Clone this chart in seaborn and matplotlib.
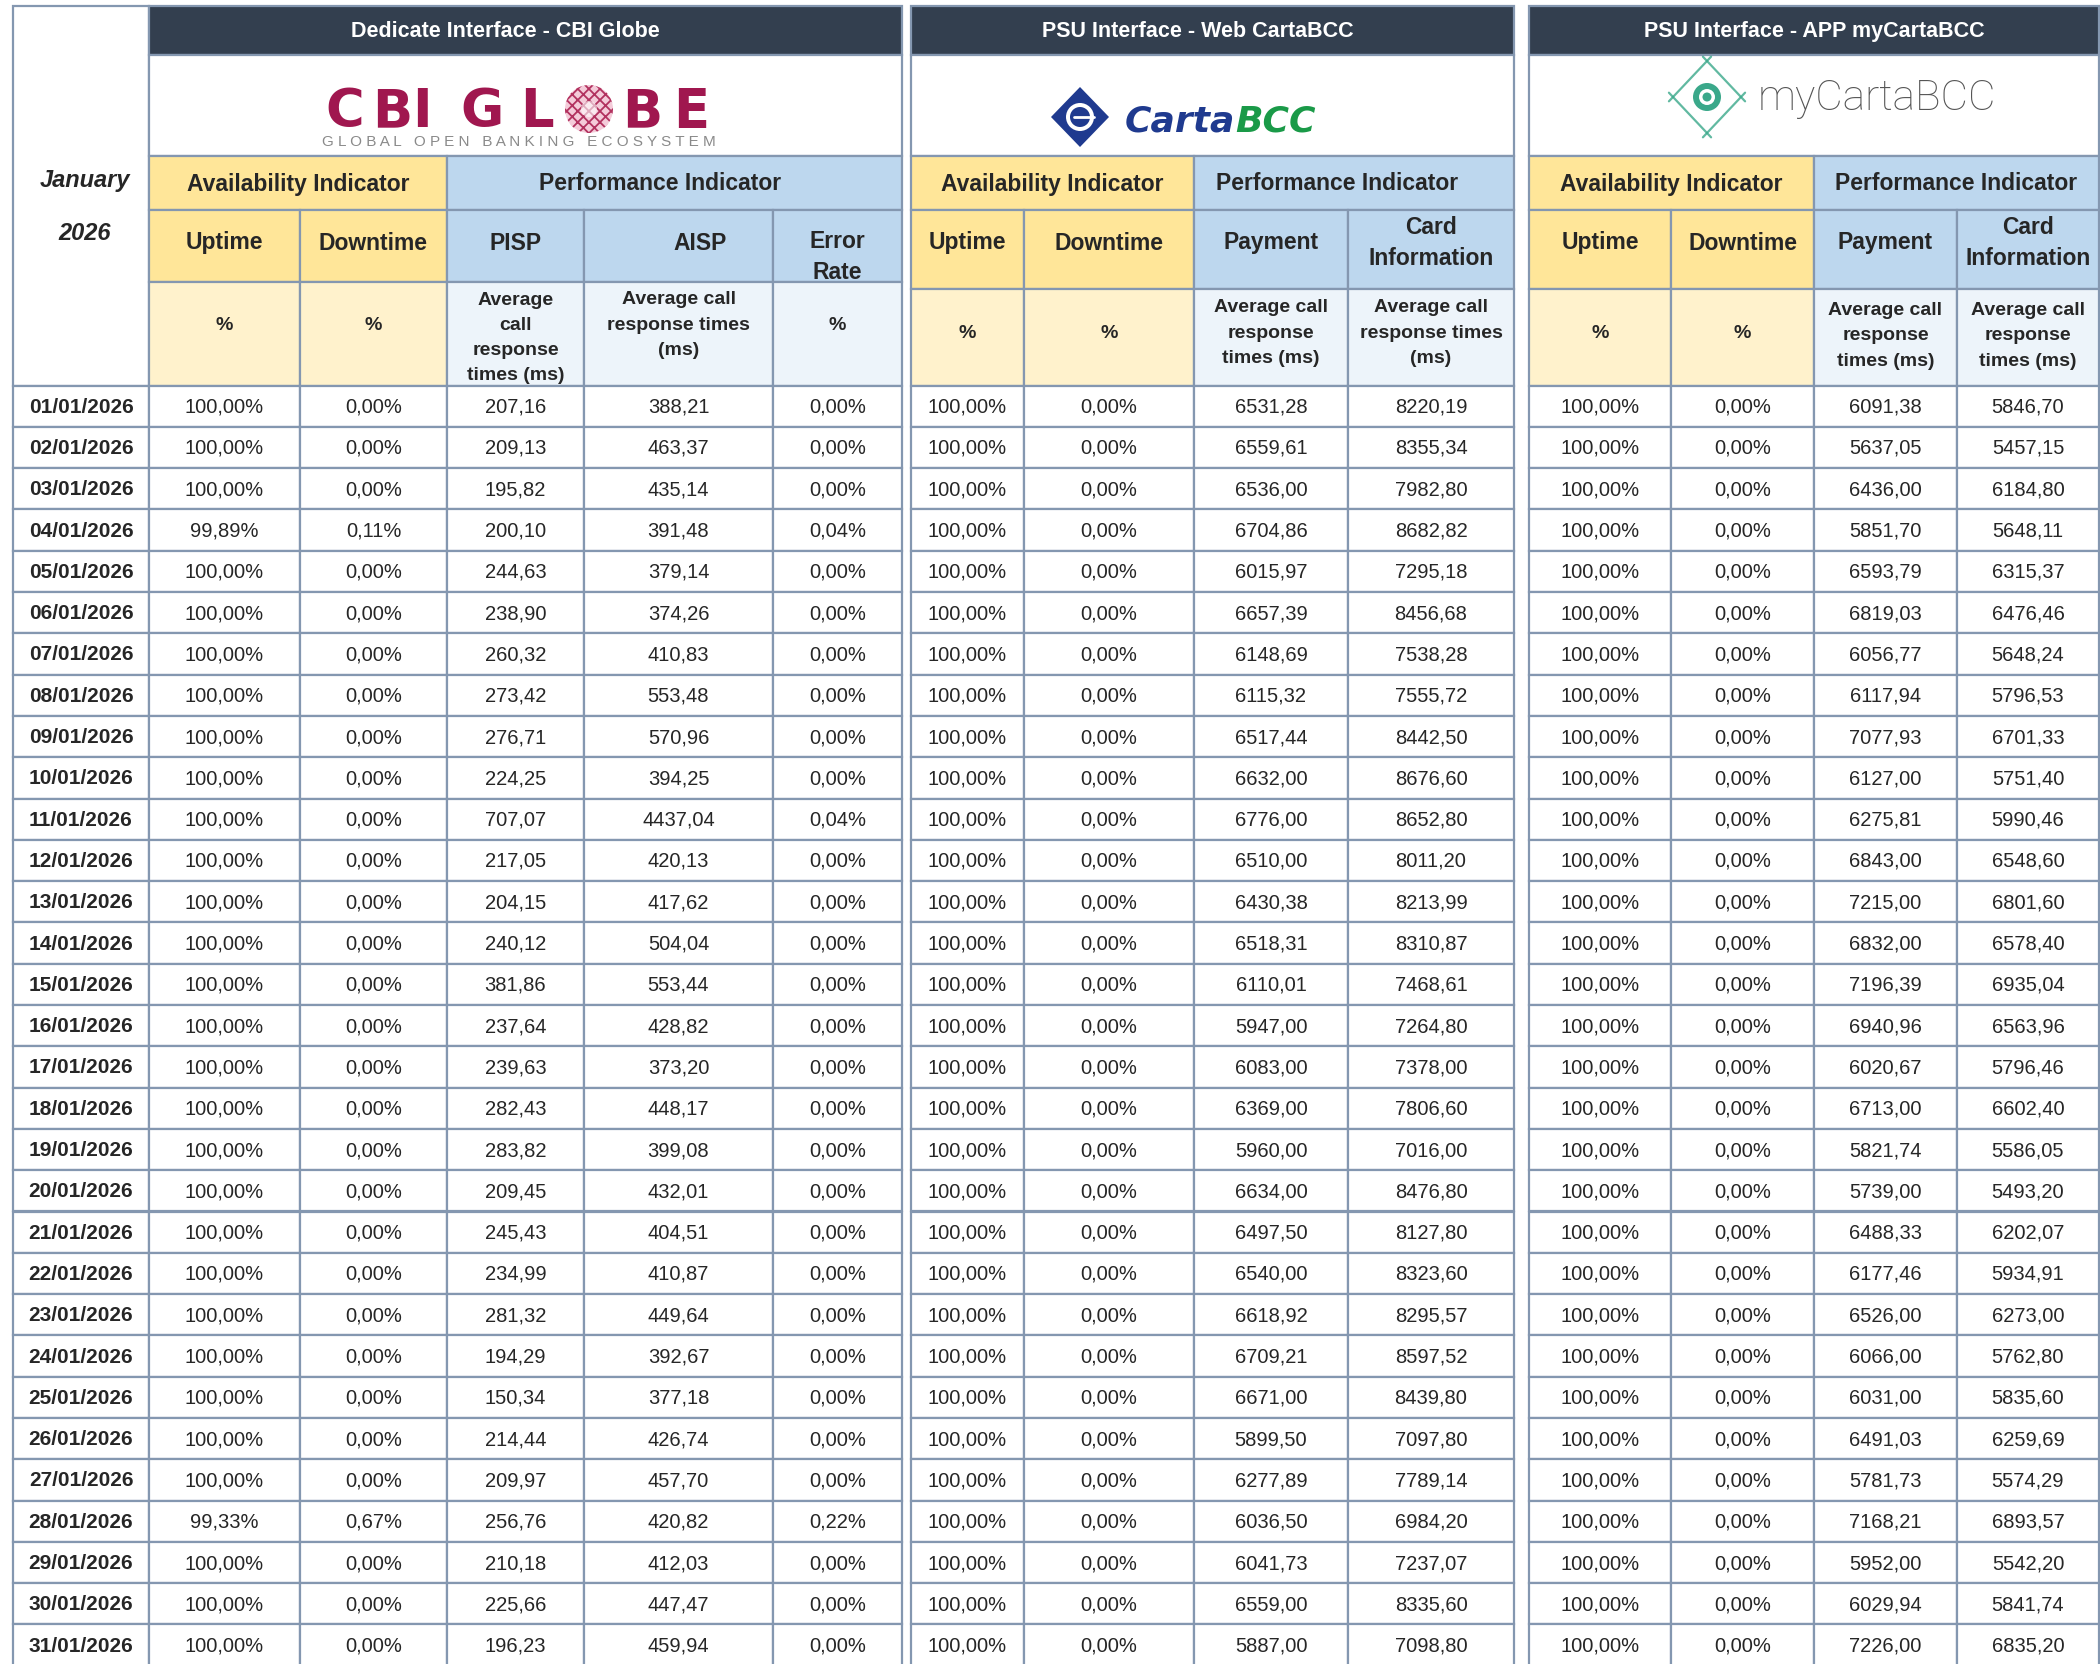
import numpy as np
import matplotlib.pyplot as plt
from matplotlib.patches import Rectangle, Circle, Polygon
import seaborn as sns

sns.set_theme(style='white')
plt.rcParams['font.family'] = ['Liberation Sans', 'DejaVu Sans']
plt.rcParams['hatch.linewidth'] = 1.3

# ---------------- data ----------------
month_label = 'January'
year_label = '2026'

dates = ['01/01/2026', '02/01/2026', '03/01/2026', '04/01/2026', '05/01/2026', '06/01/2026',
         '07/01/2026', '08/01/2026', '09/01/2026', '10/01/2026', '11/01/2026', '12/01/2026',
         '13/01/2026', '14/01/2026', '15/01/2026', '16/01/2026', '17/01/2026', '18/01/2026',
         '19/01/2026', '20/01/2026', '21/01/2026', '22/01/2026', '23/01/2026', '24/01/2026',
         '25/01/2026', '26/01/2026', '27/01/2026', '28/01/2026', '29/01/2026', '30/01/2026',
         '31/01/2026']

# Dedicate Interface - CBI Globe
cbi_uptime = [100.00, 100.00, 100.00, 99.89, 100.00, 100.00, 100.00, 100.00, 100.00, 100.00,
              100.00, 100.00, 100.00, 100.00, 100.00, 100.00, 100.00, 100.00, 100.00, 100.00,
              100.00, 100.00, 100.00, 100.00, 100.00, 100.00, 100.00, 99.33, 100.00, 100.00,
              100.00]
cbi_downtime = [0.00, 0.00, 0.00, 0.11, 0.00, 0.00, 0.00, 0.00, 0.00, 0.00,
                0.00, 0.00, 0.00, 0.00, 0.00, 0.00, 0.00, 0.00, 0.00, 0.00,
                0.00, 0.00, 0.00, 0.00, 0.00, 0.00, 0.00, 0.67, 0.00, 0.00,
                0.00]
cbi_pisp = [207.16, 209.13, 195.82, 200.10, 244.63, 238.90, 260.32, 273.42, 276.71, 224.25,
            707.07, 217.05, 204.15, 240.12, 381.86, 237.64, 239.63, 282.43, 283.82, 209.45,
            245.43, 234.99, 281.32, 194.29, 150.34, 214.44, 209.97, 256.76, 210.18, 225.66,
            196.23]
cbi_aisp = [388.21, 463.37, 435.14, 391.48, 379.14, 374.26, 410.83, 553.48, 570.96, 394.25,
            4437.04, 420.13, 417.62, 504.04, 553.44, 428.82, 373.20, 448.17, 399.08, 432.01,
            404.51, 410.87, 449.64, 392.67, 377.18, 426.74, 457.70, 420.82, 412.03, 447.47,
            459.94]
cbi_error = [0.00, 0.00, 0.00, 0.04, 0.00, 0.00, 0.00, 0.00, 0.00, 0.00,
             0.04, 0.00, 0.00, 0.00, 0.00, 0.00, 0.00, 0.00, 0.00, 0.00,
             0.00, 0.00, 0.00, 0.00, 0.00, 0.00, 0.00, 0.22, 0.00, 0.00,
             0.00]

# PSU Interface - Web CartaBCC
web_uptime = [100.00] * 31
web_downtime = [0.00] * 31
web_payment = [6531.28, 6559.61, 6536.00, 6704.86, 6015.97, 6657.39, 6148.69, 6115.32, 6517.44, 6632.00,
               6776.00, 6510.00, 6430.38, 6518.31, 6110.01, 5947.00, 6083.00, 6369.00, 5960.00, 6634.00,
               6497.50, 6540.00, 6618.92, 6709.21, 6671.00, 5899.50, 6277.89, 6036.50, 6041.73, 6559.00,
               5887.00]
web_card = [8220.19, 8355.34, 7982.80, 8682.82, 7295.18, 8456.68, 7538.28, 7555.72, 8442.50, 8676.60,
            8652.80, 8011.20, 8213.99, 8310.87, 7468.61, 7264.80, 7378.00, 7806.60, 7016.00, 8476.80,
            8127.80, 8323.60, 8295.57, 8597.52, 8439.80, 7097.80, 7789.14, 6984.20, 7237.07, 8335.60,
            7098.80]

# PSU Interface - APP myCartaBCC
app_uptime = [100.00] * 31
app_downtime = [0.00] * 31
app_payment = [6091.38, 5637.05, 6436.00, 5851.70, 6593.79, 6819.03, 6056.77, 6117.94, 7077.93, 6127.00,
               6275.81, 6843.00, 7215.00, 6832.00, 7196.39, 6940.96, 6020.67, 6713.00, 5821.74, 5739.00,
               6488.33, 6177.46, 6526.00, 6066.00, 6031.00, 6491.03, 5781.73, 7168.21, 5952.00, 6029.94,
               7226.00]
app_card = [5846.70, 5457.15, 6184.80, 5648.11, 6315.37, 6476.46, 5648.24, 5796.53, 6701.33, 5751.40,
            5990.46, 6548.60, 6801.60, 6578.40, 6935.04, 6563.96, 5796.46, 6602.40, 5586.05, 5493.20,
            6202.07, 5934.91, 6273.00, 5762.80, 5835.60, 6259.69, 5574.29, 6893.57, 5542.20, 5841.74,
            6835.20]

# ---------------- style ----------------
GRID = '#8497b0'
NAVY = '#333f4f'
AV_HEAD = '#ffe699'
PERF_HEAD = '#bdd7ee'
AV_UNIT = '#fff2cc'
PERF_UNIT = '#edf4fa'
LW = 1.6


def fmt(v, pct):
    s = f'{v:.2f}'.replace('.', ',')
    return s + '%' if pct else s


blocks = [
    dict(title='Dedicate Interface - CBI Globe',
         edges=[149, 300, 447, 584, 773, 902],
         hy=[7, 56, 157, 211, 283, 386.5],
         n_av=2, title_dx=-20, perf_dx=-14,
         heads=['Uptime', 'Downtime', 'PISP', 'AISP', 'Error\nRate'],
         head_dx=[0, 0, 0, 22, 0], head_dy=[0, 0, 0, 0, 14],
         units=['%', '%', 'Average\ncall\nresponse\ntimes (ms)',
                'Average call\nresponse times\n(ms)', '%'],
         unit_y=[325, 325, 338, 325, 325],
         cols=[(cbi_uptime, True), (cbi_downtime, True), (cbi_pisp, False),
               (cbi_aisp, False), (cbi_error, True)]),
    dict(title='PSU Interface - Web CartaBCC',
         edges=[911, 1024, 1194, 1348, 1514],
         hy=[7, 56, 157, 211, 290, 386.5],
         n_av=2, title_dx=-15, perf_dx=-17,
         heads=['Uptime', 'Downtime', 'Payment', 'Card\nInformation'],
         head_dx=[0, 0, 0, 0], head_dy=[0, 0, 0, 0],
         units=['%', '%', 'Average call\nresponse\ntimes (ms)',
                'Average call\nresponse times\n(ms)'],
         unit_y=[333, 333, 333, 333],
         cols=[(web_uptime, True), (web_downtime, True), (web_payment, False),
               (web_card, False)]),
    dict(title='PSU Interface - APP myCartaBCC',
         edges=[1529, 1671, 1814, 1957, 2099],
         hy=[7, 56, 157, 211, 290, 386.5],
         n_av=2, title_dx=0, perf_dx=0,
         heads=['Uptime', 'Downtime', 'Payment', 'Card\nInformation'],
         head_dx=[0, 0, 0, 0], head_dy=[0, 0, 0, 0],
         units=['%', '%', 'Average call\nresponse\ntimes (ms)',
                'Average call\nresponse\ntimes (ms)'],
         unit_y=[334, 334, 336, 336],
         cols=[(app_uptime, True), (app_downtime, True), (app_payment, False),
               (app_card, False)]),
]

ROW_TOP = 386.5
ROW_H = 41.3
DATE_X = [13, 149]
HEAD_Y = 243

fig = plt.figure(figsize=(21, 16.65), dpi=100)
ax = fig.add_axes([0, 0, 1, 1])
ax.set_xlim(0, 2100)
ax.set_ylim(1665, 0)
ax.axis('off')


def box(x0, x1, y0, y1, color='white'):
    ax.add_patch(Rectangle((x0, y0), x1 - x0, y1 - y0, facecolor=color,
                           edgecolor=GRID, lw=LW, zorder=1))


def label(x, y, s, **kw):
    kw.setdefault('ha', 'center')
    kw.setdefault('va', 'center')
    ax.text(x, y, s, zorder=3, **kw)


# date column header
box(DATE_X[0], DATE_X[1], 7, ROW_TOP)
label(85, 180, month_label, fontsize=17, fontweight='bold', fontstyle='italic')
label(85, 233, year_label, fontsize=17, fontweight='bold', fontstyle='italic')

for i, d in enumerate(dates):
    y0 = ROW_TOP + i * ROW_H
    box(DATE_X[0], DATE_X[1], y0, y0 + ROW_H)
    label(sum(DATE_X) / 2, y0 + ROW_H / 2, d, fontsize=15, fontweight='bold')

for b in blocks:
    e = b['edges']
    hy = b['hy']
    n_av = b['n_av']
    box(e[0], e[-1], hy[0], hy[1], color=NAVY)
    label((e[0] + e[-1]) / 2 + b['title_dx'], (hy[0] + hy[1]) / 2, b['title'],
          color='white', fontsize=15.5, fontweight='bold')
    box(e[0], e[-1], hy[1], hy[2])
    box(e[0], e[n_av], hy[2], hy[3], color=AV_HEAD)
    label((e[0] + e[n_av]) / 2, (hy[2] + hy[3]) / 2, 'Availability Indicator',
          fontsize=16.5, fontweight='bold')
    box(e[n_av], e[-1], hy[2], hy[3], color=PERF_HEAD)
    label((e[n_av] + e[-1]) / 2 + b['perf_dx'], (hy[2] + hy[3]) / 2, 'Performance Indicator',
          fontsize=16.5, fontweight='bold')
    for j in range(len(e) - 1):
        av = j < n_av
        xc = (e[j] + e[j + 1]) / 2
        box(e[j], e[j + 1], hy[3], hy[4], color=AV_HEAD if av else PERF_HEAD)
        label(xc + b['head_dx'][j], HEAD_Y + b['head_dy'][j], b['heads'][j],
              fontsize=16.5, fontweight='bold', linespacing=1.42)
        box(e[j], e[j + 1], hy[4], hy[5], color=AV_UNIT if av else PERF_UNIT)
        label(xc, b['unit_y'][j], b['units'][j],
              fontsize=14, fontweight='bold', linespacing=1.62)
        vals, pct = b['cols'][j]
        for i, v in enumerate(vals):
            y0 = ROW_TOP + i * ROW_H
            box(e[j], e[j + 1], y0, y0 + ROW_H)
            label(xc, y0 + ROW_H / 2, fmt(v, pct), fontsize=14.5)

# ---------------- logos ----------------
MAROON = '#a0174f'
for ch, x in [('C', 345), ('B', 392), ('I', 422), ('G', 482), ('L', 537), ('B', 642), ('E', 691)]:
    ax.text(x, 127, ch, fontsize=38, fontweight='bold', color=MAROON, family='DejaVu Sans',
            ha='center', va='baseline', zorder=3)
ax.add_patch(Circle((589, 110), 24, facecolor='#f4cbd9', edgecolor='#b2325f', hatch='xxx',
                    lw=0, zorder=3))
ax.add_patch(Circle((589, 110), 8, facecolor='white', alpha=0.6, lw=0, zorder=4))
ax.text(519, 142, 'G L O B A L   O P E N   B A N K I N G   E C O S Y S T E M',
        fontsize=11, color='#8a8a8a', ha='center', va='center', zorder=3)

BLUE = '#1f3a8f'
ax.add_patch(Polygon([(1051, 118), (1080, 88), (1109, 118), (1080, 148)], closed=True,
                     facecolor=BLUE, lw=0, zorder=3))
ax.add_patch(Circle((1080, 118), 14, facecolor='white', lw=0, zorder=4))
ax.add_patch(Circle((1080, 118), 10, facecolor=BLUE, lw=0, zorder=5))
ax.plot([1074, 1094], [118, 118], color='white', lw=2, zorder=6)
t1 = ax.text(1125, 131, 'Carta', fontsize=26, fontweight='bold', fontstyle='italic',
             color=BLUE, family='DejaVu Sans', ha='left', va='baseline', zorder=3)
ax.annotate('BCC', xy=(1, 0), xycoords=t1, fontsize=26, fontweight='bold',
            fontstyle='italic', color='#1a9a48', family='DejaVu Sans',
            ha='left', va='bottom', zorder=3)

TEAL = '#3aa88a'
dia = np.array([(1673, 98), (1707, 62), (1741, 98), (1707, 134)])
for k in range(4):
    p0, p1 = dia[k], dia[(k + 1) % 4]
    seg = np.array([p0 + s * (p1 - p0) for s in (-0.12, 1.12)])
    ax.plot(seg[:, 0], seg[:, 1], color=TEAL, lw=1.6, alpha=0.8, zorder=3)
ax.add_patch(Circle((1707, 98), 14, facecolor=TEAL, lw=0, zorder=4))
ax.add_patch(Circle((1707, 98), 8, facecolor='white', lw=0, zorder=5))
ax.add_patch(Circle((1707, 98), 4.5, facecolor=TEAL, lw=0, zorder=6))
ax.text(1758, 110, 'myCartaBCC', fontsize=30.5, color='#555555', family=['Roboto', 'DejaVu Sans'],
        fontweight='light', ha='left', va='baseline', zorder=3)

fig.savefig('out.png', dpi=100, facecolor='white')
